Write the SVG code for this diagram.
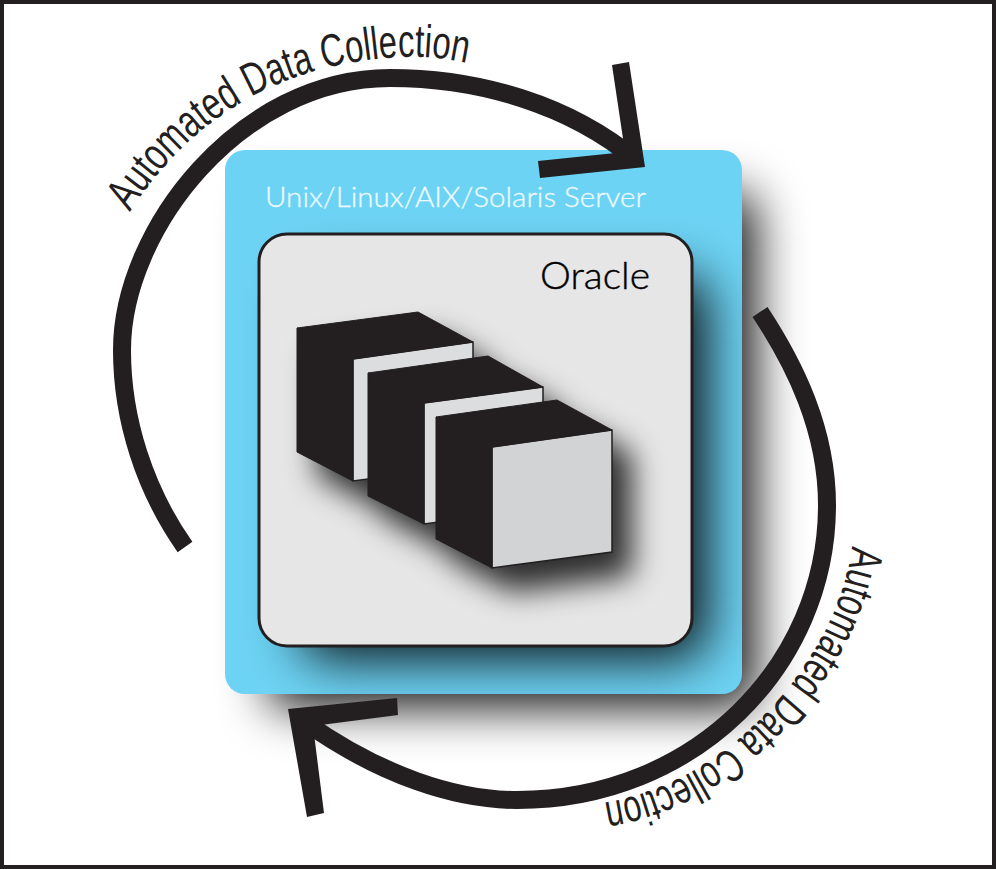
<svg xmlns="http://www.w3.org/2000/svg" width="996" height="869" viewBox="0 0 996 869">
<defs>
<filter id="b1" x="-30%" y="-30%" width="160%" height="160%"><feGaussianBlur stdDeviation="24"/></filter>
<filter id="b3" x="-30%" y="-30%" width="160%" height="160%"><feGaussianBlur stdDeviation="26"/></filter>
<filter id="b2" x="-30%" y="-30%" width="160%" height="160%"><feGaussianBlur stdDeviation="15"/></filter>
<clipPath id="blueClip"><rect x="225" y="150" width="517" height="544" rx="20"/></clipPath>
<clipPath id="innerClip"><rect x="259" y="234" width="433" height="412" rx="28"/></clipPath>
<path id="tp1" d="M130,212 C 180,135 260,65 400,57 C 425,56 445,58 472,64"/>
<path id="tp2" d="M852,546 C 840,650 735,785 600,803"/>
<style>
.arc{fill:none;stroke:#231f20;stroke-width:18}
.curve{font-family:"Liberation Sans",sans-serif;font-size:46px;fill:#231f20}
.dark{fill:#231f20;stroke:#231f20;stroke-width:1}
.face{stroke:#231f20;stroke-width:1.5}
</style>
</defs>
<rect x="2" y="2" width="992" height="865" fill="#fff" stroke="#231f20" stroke-width="4"/>
<g id="server">
<rect x="268" y="193" width="488" height="515" rx="20" fill="#000" fill-opacity="0.9" filter="url(#b1)"/>
<rect x="225" y="150" width="517" height="544" rx="20" fill="#6dd3f4"/>
<g clip-path="url(#blueClip)"><rect x="300" y="275" width="408" height="385" rx="28" fill="#000" fill-opacity="0.9" filter="url(#b3)"/></g>
<text x="265" y="207" font-family="Lato,sans-serif" font-weight="300" font-size="28" fill="#eefaff" stroke="#eefaff" stroke-width="0.3" textLength="381" lengthAdjust="spacingAndGlyphs">Unix/Linux/AIX/Solaris Server</text>
</g>
<g id="oracle">
<rect x="259" y="234" width="433" height="412" rx="28" fill="#e6e6e6" stroke="#231f20" stroke-width="3"/>
<text x="540" y="289" font-family="Lato,sans-serif" font-weight="300" font-size="38" fill="#000" stroke="#000" stroke-width="0.4" textLength="110" lengthAdjust="spacingAndGlyphs">Oracle</text>
<g clip-path="url(#innerClip)">
<path transform="translate(20,24)" d="M297,328 418,312 473,342 473,360 488,356 543,387 543,405 557,400 612,430 612,552 492,568 436,539 423,524 368,496 352,480 297,452Z" fill="#000" fill-opacity="0.8" filter="url(#b2)"/>
</g>
</g>
<g id="cube1">
<path class="face" d="M353,359 473,342 473,465 353,481Z" fill="#dcddde"/>
<path class="dark" d="M297,328 418,312 473,342 353,359Z"/>
<path class="dark" d="M297,328 353,359 353,481 297,452Z"/>
</g>
<g id="cube2">
<path class="face" d="M424,403 543,387 543,508 424,524Z" fill="#dcddde"/>
<path class="dark" d="M368,373 488,356 543,387 424,403Z"/>
<path class="dark" d="M368,373 424,403 424,524 368,496Z"/>
</g>
<g id="cube3">
<path class="face" d="M492,447 612,430 612,552 492,568Z" fill="#d1d3d4"/>
<path class="dark" d="M436,417 557,400 612,430 492,447Z"/>
<path class="dark" d="M436,417 492,447 492,568 436,539Z"/>
</g>
<g id="connectors">
<path class="arc" d="M185,547 C 145,490 122,420 122,350 C 122,230 240,78 390,78 C 480,78 570,105 636,160"/>
<path d="M612,65 629,62 645,167 540,178 538,161 625,152Z" fill="#231f20"/>
<path class="arc" d="M760,312 C 795,365 827,430 827,505 C 827,665 695,800 517,800 C 455,800 380,775 305,722"/>
<path d="M397,698 398,715 313,726 324,813 307,817 288,709Z" fill="#231f20"/>
</g>
<g id="labels">
<text class="curve"><textPath href="#tp1" textLength="392" lengthAdjust="spacingAndGlyphs">Automated Data Collection</textPath></text>
<text class="curve"><textPath href="#tp2" textLength="380" lengthAdjust="spacingAndGlyphs">Automated Data Collection</textPath></text>
</g>
</svg>
